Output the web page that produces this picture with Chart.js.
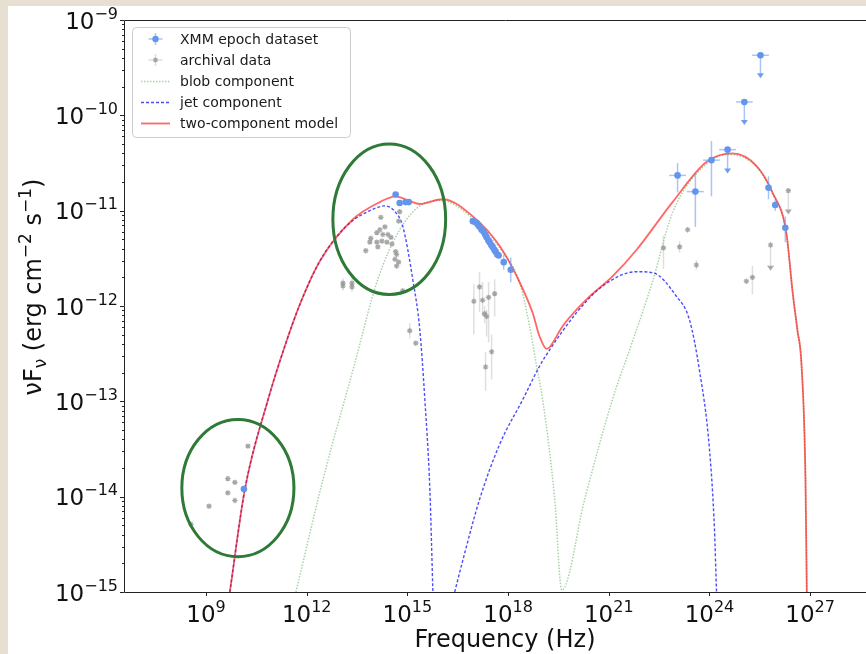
<!DOCTYPE html>
<html>
<head>
<meta charset="utf-8">
<script src="https://cdn.jsdelivr.net/npm/chart.js@4.4.1/dist/chart.umd.min.js"></script>
<style>
  html, body { margin: 0; padding: 0; overflow: hidden; background: #e6dfd2; width: 866px; height: 654px; }
  #wrap { position: absolute; left: 8px; top: 6px; width: 900px; height: 648px; background: #fff; }
</style>
</head>
<body>
<div id="wrap"><canvas id="sed" width="900" height="648"></canvas></div>
<script>
// all values are log10(frequency / Hz) and log10(nuFnu / erg cm^-2 s^-1)
// error sizes are in dex

// XMM epoch dataset
var xmmNu   = [10.13, 14.65, 14.77, 14.95, 15.04,
               16.95, 17.02, 17.07, 17.11, 17.15, 17.21, 17.27, 17.32, 17.36, 17.41, 17.45, 17.50, 17.54, 17.59, 17.63, 17.68, 17.72, 17.87, 18.08,
               23.05, 23.58, 24.06, 24.54, 25.04, 25.52, 25.76, 25.96, 26.26];
var xmmFlux = [-13.92, -10.83, -10.92, -10.91, -10.91,
               -11.11, -11.12, -11.13, -11.15, -11.17, -11.20, -11.22, -11.25, -11.28, -11.31, -11.33, -11.36, -11.38, -11.41, -11.43, -11.46, -11.47, -11.54, -11.62,
               -10.63, -10.80, -10.47, -10.36, -9.86, -9.37, -10.76, -10.94, -11.18];
var xmmErrUp   = [0, 0, 0, 0, 0,
                  0, 0, 0, 0, 0, 0, 0, 0, 0, 0, 0, 0, 0, 0, 0, 0, 0, 0.08, 0.13,
                  0.13, 0.20, 0.20, 0, 0, 0, 0.12, 0.06, 0.12];
var xmmErrDown = [0, 0, 0, 0, 0,
                  0, 0, 0, 0, 0, 0, 0, 0, 0, 0, 0, 0, 0, 0, 0, 0, 0, 0.08, 0.13,
                  0.18, 0.37, 0.38, 0.23, 0.22, 0.22, 0.12, 0.06, 0.15];
var xmmNuErr   = [0, 0, 0, 0, 0,
                  0, 0, 0, 0, 0, 0, 0, 0, 0, 0, 0, 0, 0, 0, 0, 0, 0, 0, 0,
                  0.25, 0.25, 0.25, 0.25, 0.25, 0.25, 0, 0, 0];
var xmmUpperLimit = [0, 0, 0, 0, 0,
                  0, 0, 0, 0, 0, 0, 0, 0, 0, 0, 0, 0, 0, 0, 0, 0, 0, 0, 0,
                  0, 0, 0, 1, 1, 1, 0, 0, 0];

// archival data
var archNu   = [8.55, 9.09, 9.65, 9.86, 9.65, 9.86, 10.25,
                13.08, 13.08, 13.35, 13.35,
                14.21, 14.33, 14.18, 14.09, 14.27, 14.42, 14.51, 13.91, 14.24, 14.39, 14.09, 14.54, 13.88, 14.12, 13.76, 14.65, 14.68, 14.63, 14.74, 14.68, 14.74, 14.77,
                14.86, 15.07, 15.25,
                16.98, 17.15, 17.24, 17.42, 17.60, 17.30, 17.36, 17.51, 17.33,
                22.63, 23.11, 23.35, 23.61, 25.10, 25.28, 25.82, 26.35];
var archFlux = [-14.29, -14.10, -13.81, -13.85, -13.96, -14.04, -13.47,
                -11.76, -11.79, -11.76, -11.80,
                -11.07, -11.17, -11.20, -11.23, -11.25, -11.25, -11.28, -11.29, -11.32, -11.33, -11.33, -11.35, -11.33, -11.38, -11.42, -11.43, -11.46, -11.51, -11.54, -11.58, -11.11, -11.01,
                -11.84, -12.26, -12.39,
                -11.95, -11.80, -11.94, -11.91, -11.87, -12.08, -12.11, -12.48, -12.64,
                -11.39, -11.38, -11.20, -11.57, -11.74, -11.70, -11.36, -10.79];
var archErrUp   = [0, 0, 0, 0, 0, 0, 0,
                   0.05, 0.05, 0.05, 0.05,
                   0, 0, 0, 0, 0, 0, 0, 0, 0, 0, 0, 0, 0, 0, 0, 0, 0, 0, 0, 0, 0, 0,
                   0, 0.08, 0,
                   0.18, 0.16, 0.19, 0.16, 0.15, 0.08, 0.07, 0.18, 0.16,
                   0.13, 0.06, 0, 0.05, 0, 0.12, 0, 0];
var archErrDown = [0, 0, 0, 0, 0, 0, 0,
                   0.05, 0.05, 0.05, 0.05,
                   0, 0, 0, 0, 0, 0, 0, 0, 0, 0, 0, 0, 0, 0, 0, 0, 0, 0, 0, 0, 0, 0,
                   0, 0.08, 0,
                   0.35, 0.26, 0.17, 0.47, 0.24, 0.10, 0.21, 0.29, 0.25,
                   0.22, 0.06, 0, 0.05, 0, 0.18, 0.25, 0.23];
var archUpperLimit = [0, 0, 0, 0, 0, 0, 0,
                   0, 0, 0, 0,
                   0, 0, 0, 0, 0, 0, 0, 0, 0, 0, 0, 0, 0, 0, 0, 0, 0, 0, 0, 0, 0, 0,
                   0, 0, 0,
                   0, 0, 0, 0, 0, 0, 0, 0, 0,
                   0, 0, 0, 0, 0, 0, 1, 1];

// model curves
var modelNu   = [9.71, 10.16, 10.85, 11.35, 11.80, 12.39, 13.38, 14.18, 14.65, 15.07, 15.37, 16.05, 16.95, 17.75, 18.26, 18.73, 18.94, 19.15, 19.24, 19.63, 20.34, 21.11, 21.83, 22.90, 23.91, 24.68, 25.40, 25.88, 26.29, 26.48, 26.62, 26.74, 26.86, 26.90];
var modelFlux = [-15.0, -13.92, -12.98, -12.42, -11.98, -11.53, -11.09, -10.91, -10.85, -10.90, -10.93, -10.88, -11.06, -11.37, -11.69, -12.07, -12.32, -12.45, -12.43, -12.21, -11.93, -11.69, -11.41, -10.91, -10.49, -10.40, -10.53, -10.81, -11.23, -11.86, -12.25, -12.60, -13.8, -15.0];

var blobNu   = [11.68, 12.50, 13.38, 14.12, 14.77, 15.37, 15.96, 16.95, 17.75, 18.35, 18.64, 18.85, 19.03, 19.39, 19.60, 20.28, 21.11, 21.62, 22.30, 22.90, 23.91, 24.60, 25.40, 25.88, 26.29, 26.48, 26.62, 26.74, 26.86, 26.90];
var blobFlux = [-15.0, -13.80, -12.67, -11.72, -11.20, -10.95, -10.89, -11.08, -11.39, -11.76, -12.21, -12.63, -12.98, -14.03, -14.98, -14.03, -12.98, -12.46, -11.75, -11.02, -10.51, -10.41, -10.54, -10.82, -11.24, -11.87, -12.26, -12.61, -13.8, -15.0];

var jetSynNu   = [9.71, 10.16, 10.85, 11.35, 11.80, 12.39, 12.90, 13.35, 13.88, 14.33, 14.63, 14.86, 15.16, 15.37, 15.52, 15.67, 15.76];
var jetSynFlux = [-15.0, -13.92, -12.98, -12.42, -11.98, -11.53, -11.27, -11.11, -11.00, -10.95, -11.01, -11.16, -11.72, -12.25, -12.98, -13.93, -15.0];
var jetIcNu    = [16.41, 16.62, 17.15, 17.75, 18.44, 18.94, 19.24, 20.04, 20.82, 21.83, 22.30, 23.02, 23.40, 23.70, 24.00, 24.15, 24.21];
var jetIcFlux  = [-15.0, -14.71, -14.03, -13.45, -12.98, -12.63, -12.46, -12.07, -11.79, -11.64, -11.65, -11.90, -12.14, -12.67, -13.50, -14.35, -15.0];

// highlighted regions (centre and half axes, in dex)
var ringNu     = [9.95, 14.46];
var ringFlux   = [-13.91, -11.09];
var ringHalfNu = [1.67, 1.68];
var ringHalfFl = [0.72, 0.79];

// axis ticks (exponents)
var xTickExps = [9, 12, 15, 18, 21, 24, 27];
var yTickExps = [-9, -10, -11, -12, -13, -14, -15];

var FONT = '"DejaVu Sans", sans-serif';

function pts(nu, fl) {
  return nu.map(function (v, i) { return { x: Math.pow(10, v), y: Math.pow(10, fl[i]) }; });
}

// draw text runs of mixed size (for superscripts)
function drawRuns(ctx, runs, x, y, align) {
  var total = 0;
  runs.forEach(function (r) { ctx.font = r.size + 'px ' + FONT; r.w = ctx.measureText(r.t).width; total += r.w; });
  var cx = align === 'center' ? x - total / 2 : (align === 'right' ? x - total : x);
  ctx.textAlign = 'left';
  ctx.textBaseline = 'alphabetic';
  runs.forEach(function (r) {
    ctx.font = r.size + 'px ' + FONT;
    ctx.fillText(r.t, cx, y + (r.dy || 0));
    cx += r.w;
  });
}

function powRuns(exp) {
  return [{ t: '10', size: 23 }, { t: String(exp).replace('-', '\u2212'), size: 16, dy: -10 }];
}

function drawErrorBars(ctx, xs, ys, ds) {
  ctx.save();
  ctx.strokeStyle = ds.barColor;
  ctx.fillStyle = ds.arrowColor;
  ctx.lineWidth = 1.5;
  for (var i = 0; i < ds.logNu.length; i++) {
    var nu = ds.logNu[i], fl = ds.logFlux[i];
    var px = xs.getPixelForValue(Math.pow(10, nu));
    var py = ys.getPixelForValue(Math.pow(10, fl));
    var up = ds.errUp[i], dn = ds.errDown[i];
    if (up || dn) {
      var y1 = ys.getPixelForValue(Math.pow(10, fl + up));
      var y2 = ys.getPixelForValue(Math.pow(10, fl - dn));
      ctx.beginPath(); ctx.moveTo(px, y1); ctx.lineTo(px, y2); ctx.stroke();
      if (ds.upperLimit[i]) {
        ctx.beginPath();
        ctx.moveTo(px - 3.5, y2 - 3); ctx.lineTo(px + 3.5, y2 - 3); ctx.lineTo(px, y2 + 2);
        ctx.closePath(); ctx.fill();
      }
    }
    var xe = ds.nuErr ? ds.nuErr[i] : 0;
    if (xe) {
      var x1 = xs.getPixelForValue(Math.pow(10, nu - xe));
      var x2 = xs.getPixelForValue(Math.pow(10, nu + xe));
      ctx.beginPath(); ctx.moveTo(x1, py); ctx.lineTo(x2, py); ctx.stroke();
    }
  }
  ctx.restore();
}

var sedDecor = {
  id: 'sedDecor',
  beforeDatasetDraw: function (chart, args) {
    var ds = chart.data.datasets[args.index];
    if (!ds.errUp) return;
    drawErrorBars(chart.ctx, chart.scales.x, chart.scales.y, ds);
  },
  afterDatasetsDraw: function (chart) {
    var ctx = chart.ctx, xs = chart.scales.x, ys = chart.scales.y;
    ctx.save();
    ctx.strokeStyle = '#2e7a36';
    ctx.lineWidth = 3;
    for (var i = 0; i < ringNu.length; i++) {
      var cx = xs.getPixelForValue(Math.pow(10, ringNu[i]));
      var cy = ys.getPixelForValue(Math.pow(10, ringFlux[i]));
      var rx = xs.getPixelForValue(Math.pow(10, ringNu[i] + ringHalfNu[i])) - cx;
      var ry = cy - ys.getPixelForValue(Math.pow(10, ringFlux[i] + ringHalfFl[i]));
      ctx.beginPath(); ctx.ellipse(cx, cy, rx, ry, 0, 0, Math.PI * 2); ctx.stroke();
    }
    ctx.restore();
  },
  afterDraw: function (chart) {
    var ctx = chart.ctx, a = chart.chartArea, xs = chart.scales.x, ys = chart.scales.y;
    ctx.save();
    // spines
    ctx.strokeStyle = '#222';
    ctx.lineWidth = 1;
    ctx.beginPath();
    ctx.moveTo(Math.round(a.right) + 0.5, Math.round(a.top) + 0.5);
    ctx.lineTo(Math.round(a.left) + 0.5, Math.round(a.top) + 0.5);
    ctx.lineTo(Math.round(a.left) + 0.5, Math.round(a.bottom) + 0.5);
    ctx.lineTo(Math.round(a.right) + 0.5, Math.round(a.bottom) + 0.5);
    ctx.stroke();

    // y ticks: majors and minors
    ctx.fillStyle = '#111';
    ctx.beginPath();
    for (var e = -15; e < -9; e++) {
      for (var m = 2; m <= 9; m++) {
        var yy = Math.round(ys.getPixelForValue(m * Math.pow(10, e))) + 0.5;
        ctx.moveTo(a.left - 2, yy); ctx.lineTo(a.left, yy);
      }
    }
    yTickExps.forEach(function (ex) {
      var yy = Math.round(ys.getPixelForValue(Math.pow(10, ex))) + 0.5;
      ctx.moveTo(a.left - 4, yy); ctx.lineTo(a.left, yy);
    });
    xTickExps.forEach(function (ex) {
      var xx = Math.round(xs.getPixelForValue(Math.pow(10, ex))) + 0.5;
      ctx.moveTo(xx, a.bottom); ctx.lineTo(xx, a.bottom + 4);
    });
    ctx.stroke();

    // tick labels
    yTickExps.forEach(function (ex) {
      var yy = ys.getPixelForValue(Math.pow(10, ex));
      drawRuns(ctx, powRuns(ex), a.left - 6, yy + 8.5, 'right');
    });
    xTickExps.forEach(function (ex) {
      var xx = xs.getPixelForValue(Math.pow(10, ex));
      drawRuns(ctx, powRuns(ex), xx, a.bottom + 30, 'center');
    });

    // axis titles
    drawRuns(ctx, [{ t: 'Frequency (Hz)', size: 24 }], (a.left + a.right) / 2, 641, 'center');
    ctx.save();
    ctx.translate(33, 281);
    ctx.rotate(-Math.PI / 2);
    drawRuns(ctx, [
      { t: '\u03BDF', size: 24 }, { t: '\u03BD', size: 17, dy: 5 },
      { t: ' (erg cm', size: 24 }, { t: '\u22122', size: 17, dy: -10 },
      { t: ' s', size: 24 }, { t: '\u22121', size: 17, dy: -10 },
      { t: ')', size: 24 }
    ], 0, 0, 'center');
    ctx.restore();

    // legend
    var lx = 124, ly = 21, lw = 218, lh = 110;
    ctx.fillStyle = 'rgba(255,255,255,0.85)';
    ctx.strokeStyle = '#cccccc';
    ctx.beginPath();
    ctx.roundRect(lx + 0.5, ly + 0.5, lw, lh, 4);
    ctx.fill(); ctx.stroke();
    var ds = chart.data.datasets;
    var rows = [ds[0], ds[1], ds[5], ds[3], ds[2]];
    rows.forEach(function (d, i) {
      var ry = 33 + i * 21;
      var hx = 133, hw = 29, hc = hx + hw / 2;
      ctx.save();
      if (d.errUp) {
        ctx.strokeStyle = d.barColor; ctx.lineWidth = 1.5;
        ctx.beginPath();
        ctx.moveTo(hc - 7, ry); ctx.lineTo(hc + 7, ry);
        ctx.moveTo(hc, ry - 6); ctx.lineTo(hc, ry + 6);
        ctx.stroke();
        if (d.pointStyle === 'star') {
          ctx.strokeStyle = d.borderColor; ctx.lineWidth = 1.2;
          ctx.beginPath();
          for (var k = 0; k < 4; k++) {
            var ang = k * Math.PI / 4;
            ctx.moveTo(hc - 2.6 * Math.cos(ang), ry - 2.6 * Math.sin(ang));
            ctx.lineTo(hc + 2.6 * Math.cos(ang), ry + 2.6 * Math.sin(ang));
          }
          ctx.stroke();
        } else {
          ctx.fillStyle = d.backgroundColor;
          ctx.beginPath(); ctx.arc(hc, ry, 3.2, 0, Math.PI * 2); ctx.fill();
        }
      } else {
        ctx.strokeStyle = d.borderColor; ctx.lineWidth = d.borderWidth;
        ctx.setLineDash(d.borderDash || []);
        ctx.beginPath(); ctx.moveTo(hx, ry + 0.5); ctx.lineTo(hx + hw, ry + 0.5); ctx.stroke();
      }
      ctx.restore();
      ctx.fillStyle = '#1a1a1a';
      ctx.font = '14px ' + FONT;
      ctx.textAlign = 'left';
      ctx.textBaseline = 'middle';
      ctx.fillText(d.label, 172, ry + 1);
    });
    ctx.restore();
  }
};

var lineBase = { showLine: true, pointRadius: 0, pointHoverRadius: 0, fill: false, cubicInterpolationMode: 'monotone' };

new Chart(document.getElementById('sed'), {
  type: 'scatter',
  data: {
    datasets: [
      {
        label: 'XMM epoch dataset',
        data: pts(xmmNu, xmmFlux),
        logNu: xmmNu, logFlux: xmmFlux, errUp: xmmErrUp, errDown: xmmErrDown, nuErr: xmmNuErr, upperLimit: xmmUpperLimit,
        barColor: 'rgba(100,149,237,0.55)', arrowColor: 'rgba(100,149,237,0.9)',
        pointRadius: 3.3, pointBackgroundColor: '#6495ed', backgroundColor: '#6495ed', pointBorderWidth: 0
      },
      {
        label: 'archival data',
        data: pts(archNu, archFlux),
        logNu: archNu, logFlux: archFlux, errUp: archErrUp, errDown: archErrDown, upperLimit: archUpperLimit,
        barColor: 'rgba(175,175,175,0.4)', arrowColor: 'rgba(150,150,150,0.8)',
        pointStyle: 'star', pointRadius: 2.7, borderColor: 'rgba(150,150,150,0.85)', pointBorderColor: 'rgba(150,150,150,0.85)', pointBorderWidth: 1.2
      },
      Object.assign({ label: 'two-component model', data: pts(modelNu, modelFlux), borderColor: 'rgba(255,0,0,0.6)', borderWidth: 1.8 }, lineBase),
      Object.assign({ label: 'jet component', data: pts(jetSynNu, jetSynFlux), borderColor: 'rgba(0,0,255,0.7)', borderWidth: 1.4, borderDash: [3, 2] }, lineBase),
      Object.assign({ label: 'jet component (IC)', data: pts(jetIcNu, jetIcFlux), borderColor: 'rgba(0,0,255,0.7)', borderWidth: 1.4, borderDash: [3, 2] }, lineBase),
      Object.assign({ label: 'blob component', data: pts(blobNu, blobFlux), borderColor: 'rgba(0,128,0,0.35)', borderWidth: 1.5, borderDash: [1.5, 1.5] }, lineBase)
    ]
  },
  options: {
    responsive: false,
    animation: false,
    layout: { padding: { top: 14, right: 22, left: 0, bottom: 0 } },
    plugins: { legend: { display: false }, tooltip: { enabled: false } },
    scales: {
      x: {
        type: 'logarithmic',
        min: Math.pow(10, 6.557), max: Math.pow(10, 29.26),
        ticks: { display: false }, grid: { display: false }, border: { display: false },
        afterFit: function (s) { s.height = 62; }
      },
      y: {
        type: 'logarithmic',
        min: 1e-15, max: 1e-9,
        ticks: { display: false }, grid: { display: false }, border: { display: false },
        afterFit: function (s) { s.width = 116; }
      }
    }
  },
  plugins: [sedDecor]
});
</script>
</body>
</html>
